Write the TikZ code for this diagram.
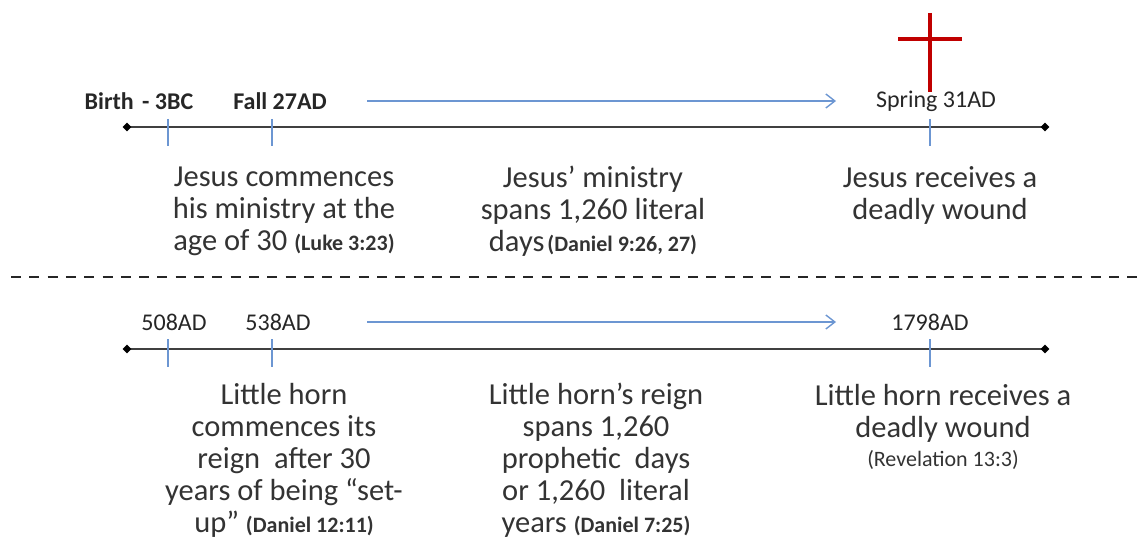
\documentclass[tikz,border=0pt]{standalone}
\usepackage{fontspec}
\setmainfont{Carlito}
\usetikzlibrary{arrows.meta,shapes.geometric}
\definecolor{tickblue}{HTML}{6C96D2}
\definecolor{arrowblue}{HTML}{6C96D2}
\definecolor{crossred}{HTML}{C00000}
\definecolor{txt}{HTML}{333333}
\begin{document}
\begin{tikzpicture}[x=1pt,y=-1pt,
  axis/.style={draw=black!75,line width=1.6pt},
  tickmark/.style={draw=tickblue,line width=1.6pt},
  dia/.style={diamond,fill=black,inner sep=0pt,minimum width=9pt,minimum height=9pt},
  span/.style={draw=arrowblue,line width=1.4pt,-{Straight Barb[length=9pt,width=14pt,line width=1.4pt]}},
  datelabel/.style={font=\fontsize{24}{26}\selectfont,text=black!85,inner sep=0pt},
  body/.style={font=\fontsize{30.5}{32}\selectfont,text=txt,align=center,inner sep=0pt},
  sep/.style={draw=black!85,line width=2.6pt,dash pattern=on 10pt off 8.3pt}
]
\useasboundingbox (0,0) rectangle (1143,540);
\newcommand{\rf}[1]{{\fontsize{22}{24}\selectfont\bfseries #1}}

% ---------- top timeline ----------
\coordinate (tl) at (127,127);
\coordinate (tr) at (1045,127);
\draw[axis] (tl) -- (tr);
\node[dia] (tld) at (tl) {};
\node[dia] (trd) at (tr) {};
\foreach \n/\x in {t1/168,t2/272,t3/930}{
  \coordinate (\n a) at (\x,119);
  \coordinate (\n b) at (\x,146);
  \draw[tickmark] (\n a) -- (\n b);
}
\node[datelabel,font=\fontsize{24}{26}\selectfont\bfseries] (birth) at (139,101) {Birth\hspace{3pt} - 3BC};
\node[datelabel,font=\fontsize{24}{26}\selectfont\bfseries] (fall) at (280,101) {Fall 27AD};
\node[datelabel] (spring) at (936,101) {Spring 31AD};
\coordinate (as1) at (367,101);
\coordinate (ae1) at (836,101);
\draw[span] (as1) -- (ae1);

% cross
\coordinate (cv1) at (930,13);
\coordinate (cv2) at (930,92);
\coordinate (ch1) at (898,39);
\coordinate (ch2) at (962,39);
\draw[crossred,line width=4pt] (cv1) -- (cv2);
\draw[crossred,line width=4pt] (ch1) -- (ch2);

\node[body] (j1) at (284,211) {Jesus commences\\his ministry at the\\age of 30 \rf{(Luke 3:23)}};
\node[body] (j2) at (593,211) {Jesus’ ministry\\spans 1,260 literal\\days\hspace{3pt}\rf{(Daniel 9:26, 27)}};
\node[body] (j3) at (940,195) {Jesus receives a\\deadly wound};

% separator
\coordinate (s1) at (11,277);
\coordinate (s2) at (1140,277);
\draw[sep] (s1) -- (s2);

% ---------- bottom timeline ----------
\coordinate (bl) at (127,349);
\coordinate (br) at (1045,349);
\draw[axis] (bl) -- (br);
\node[dia] (bld) at (bl) {};
\node[dia] (brd) at (br) {};
\foreach \n/\x in {b1/168,b2/272,b3/930}{
  \coordinate (\n a) at (\x,339);
  \coordinate (\n b) at (\x,367);
  \draw[tickmark] (\n a) -- (\n b);
}
\node[datelabel] (d508) at (174,322) {508AD};
\node[datelabel] (d538) at (278,322) {538AD};
\node[datelabel] (d1798) at (930,322) {1798AD};
\coordinate (as2) at (367,322);
\coordinate (ae2) at (836,322);
\draw[span] (as2) -- (ae2);

\node[body] (h1) at (284,460) {Little horn\\commences its\\reign\ \ after 30\\years of being “set-\\up” \rf{(Daniel 12:11)}};
\node[body] (h2) at (596,460) {Little horn’s reign\\spans 1,260\\prophetic\ \ days\\or 1,260\ \ literal\\years \rf{(Daniel 7:25)}};
\node[body] (h3) at (943,427) {Little horn receives a\\deadly wound\\[-3pt]{\fontsize{22}{24}\selectfont (Revelation 13:3)}};
\end{tikzpicture}
\end{document}
